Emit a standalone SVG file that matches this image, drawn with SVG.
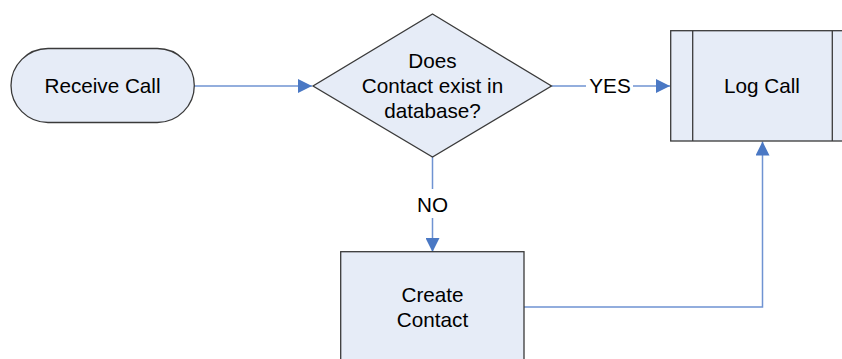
<svg xmlns="http://www.w3.org/2000/svg" width="842" height="359" viewBox="0 0 842 359">
  <style>
    .shape { fill: #E6ECF7; stroke: #3A3A3A; stroke-width: 1.3; }
    .line { fill: none; stroke: #6F93D2; stroke-width: 1.5; }
    .label { font-family: "Liberation Sans", Arial, sans-serif; font-size: 20.7px; fill: #000; text-anchor: middle; }
  </style>
  <defs>
    <marker id="arrow" viewBox="0 0 14 14" refX="14" refY="7" markerWidth="14" markerHeight="14" markerUnits="userSpaceOnUse" orient="auto">
      <path d="M0,0 L14,7 L0,14 Z" fill="#4A78C4"/>
    </marker>
  </defs>
  <rect width="842" height="359" fill="#FFFFFF"/>

  <g id="connectors">
    <path class="line" d="M194,86 H312" marker-end="url(#arrow)"/>
    <path class="line" d="M551.5,86 H586"/>
    <path class="line" d="M633,86 H670" marker-end="url(#arrow)"/>
    <path class="line" d="M432.5,157 V189"/>
    <path class="line" d="M432.5,218 V252" marker-end="url(#arrow)"/>
    <path class="line" d="M524,307 H762.5 V141.5" marker-end="url(#arrow)"/>
    <text class="label" x="610" y="93">YES</text>
    <text class="label" x="432.5" y="212.3">NO</text>
  </g>

  <g id="receive-call">
    <rect class="shape" x="11" y="48.5" width="183.3" height="74" rx="37" ry="37"/>
    <text class="label" x="102.5" y="92.7">Receive Call</text>
  </g>

  <g id="contact-exists">
    <path class="shape" d="M432.5,14 L551.5,86 L432.5,157 L313,86 Z"/>
    <text class="label" x="432.5" y="68.3">Does</text>
    <text class="label" x="432.5" y="93">Contact exist in</text>
    <text class="label" x="432.5" y="117.5">database?</text>
  </g>

  <g id="log-call">
    <rect class="shape" x="670.7" y="30.7" width="183.3" height="110.3"/>
    <line class="shape" x1="692.7" y1="30.7" x2="692.7" y2="141"/>
    <line class="shape" x1="832.3" y1="30.7" x2="832.3" y2="141"/>
    <text class="label" x="762" y="92.7">Log Call</text>
  </g>

  <g id="create-contact">
    <rect class="shape" x="340.7" y="251.7" width="183.3" height="110"/>
    <text class="label" x="432.5" y="302">Create</text>
    <text class="label" x="432.5" y="326.7">Contact</text>
  </g>
</svg>
